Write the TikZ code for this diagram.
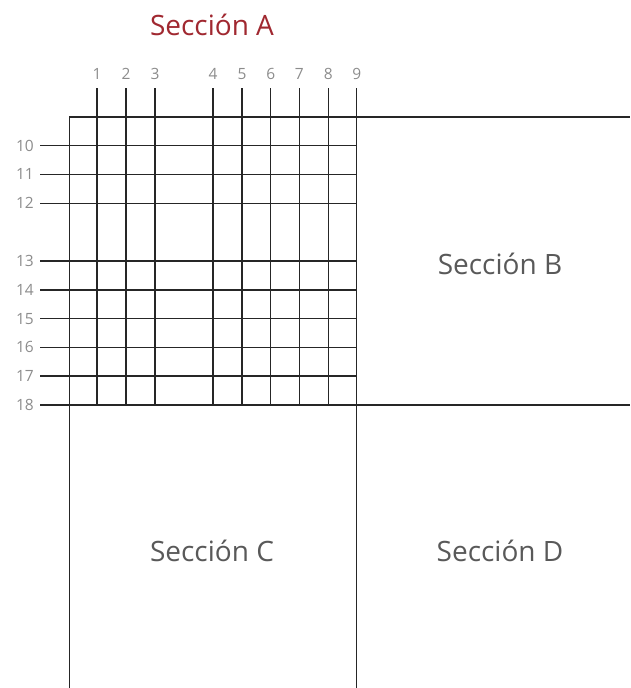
\documentclass[tikz,border=0pt]{standalone}
\usepackage{fontspec}
\setmainfont{Open Sans}
\begin{document}
\begin{tikzpicture}[x=1pt,y=-1pt,
  gridline/.style={draw=black!85,line width=1.3pt},
  numlab/.style={text=black!45,font=\fontsize{15.5}{15.5}\selectfont,inner sep=0pt},
  seclab/.style={text=black!65,font=\fontsize{28}{28}\selectfont,inner sep=0pt},
  titlelab/.style={text={rgb,255:red,160;green,40;blue,48},font=\fontsize{28}{28}\selectfont,inner sep=0pt}]
\useasboundingbox (0,0) rectangle (630,688);
% vertical columns
\foreach \n/\x in {1/97,2/126,3/155,4/213,5/242,6/270.7,7/299.3,8/328.3}{
  \coordinate (vt\n) at (\x,88);
  \coordinate (vb\n) at (\x,405);
  \node[numlab,anchor=base] (c\n) at (\x,79.5) {\n};
  \draw[gridline] (vt\n) -- (vb\n);
}
\coordinate (vt9) at (356.7,88);
\coordinate (vb9) at (356.7,688);
\node[numlab,anchor=base] (c9) at (356.7,79.5) {9};
\draw[gridline] (vt9) -- (vb9);
% left border
\coordinate (lt) at (69.3,117);
\coordinate (lb) at (69.3,688);
\draw[gridline] (lt) -- (lb);
% top border
\coordinate (tr) at (630,117);
\draw[gridline] (lt) -- (tr);
% horizontal rows
\foreach \n/\y in {10/145.7,11/174.3,12/203.3,13/261,14/290,15/318.7,16/347.3,17/376}{
  \coordinate (hl\n) at (40,\y);
  \coordinate (hr\n) at (356.7,\y);
  \node[numlab,anchor=east] (r\n) at (34,\y) {\n};
  \draw[gridline] (hl\n) -- (hr\n);
}
\coordinate (hl18) at (40,405);
\coordinate (hr18) at (630,405);
\node[numlab,anchor=east] (r18) at (34,405) {18};
\draw[gridline] (hl18) -- (hr18);
% section labels
\node[titlelab] (secA) at (212,25) {Sección A};
\node[seclab] (secB) at (500,264) {Sección B};
\node[seclab] (secC) at (212,551) {Sección C};
\node[seclab] (secD) at (500,551) {Sección D};
\end{tikzpicture}
\end{document}
